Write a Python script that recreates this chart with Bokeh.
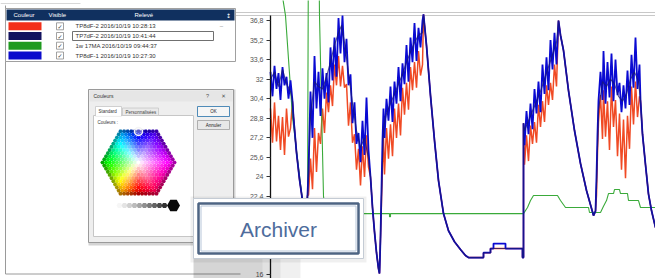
import math
import colorsys
from bokeh.plotting import figure
from bokeh.models import Range1d, FixedTicker, CustomJSTickFormatter
from bokeh.core.properties import value
from bokeh.embed import file_html
from bokeh.resources import INLINE

# ---------------- data ----------------
legend_labels = ["TP8dF-2 2016/10/19 10:28:13", "TP7dF-2 2016/10/19 10:41:44",
                 "1w 17MA 2016/10/19 09:44:37", "TP8dF-1 2016/10/19 10:27:30"]
legend_colors = ["#F2301A", "#12125E", "#1E9A1E", "#0B0BCC"]
line_colors = ["#F04A24", "#1A1A70", "#3AAA3A", "#0A0AD2"]
y_ticks = [16.0, 17.6, 19.2, 20.8, 22.4, 24.0, 25.6, 27.2, 28.8, 30.4, 32.0, 33.6, 35.2, 36.8]

# time in hours; shared cooling segments (all probes overlap there)
cool_a_t = [5.5, 5.75, 6.5, 7.25, 8.0, 8.5, 8.75, 9.0, 9.25]
cool_a_v = [30.2, 28.9, 26.0, 23.8, 22.07, 20.8, 20.3, 21.0, 22.5]
cool_b_t = [25.0, 25.5, 26.0, 26.5, 27.0, 27.25, 27.5]
cool_b_v = [24.0, 21.5, 19.5, 17.8, 16.5, 16.1, 19.0]
cool_c1_t = [38.25, 39.0, 40.0, 41.0, 42.0, 43.25, 44.5, 46.0, 47.5, 48.75, 49.5, 53.25, 53.25, 55.0, 55.0]
cool_c1_v = [37.3, 34.75, 30.66, 26.98, 23.7, 21.0, 19.6, 18.7, 18.06, 17.57, 17.4, 17.4, 17.8, 17.8, 18.14]
bump_t = [55.75, 55.75, 58.75, 58.75]
bump_v = [18.14, 18.55, 18.55, 18.14]
cool_c2_t = [63.0, 63.0, 63.25, 63.25]
cool_c2_v = [18.14, 17.4, 17.4, 28.4]
cool_d_t = [72.0, 72.5, 73.25, 74.5, 76.0, 77.5, 79.0, 80.75, 81.25]
cool_d_v = [36.8, 35.6, 34.35, 31.07, 27.8, 25.1, 22.89, 20.84, 21.2]
cool_e_t = [92.5, 93.0, 93.75, 94.5, 95.25, 96.25]
cool_e_v = [30.25, 27.5, 25.0, 22.6, 21.25, 19.86]

# heating segments (regulation noise)
h1_t = [0.0, 0.5, 1.0, 1.5, 2.0, 2.5, 3.0, 3.5, 4.0, 4.5, 5.0]
h2_t = [9.5, 10.0, 10.5, 11.0, 11.5, 12.0, 12.5, 13.0, 13.5, 14.0, 14.5, 15.0, 15.5, 16.0, 16.5,
        17.0, 17.5, 18.0, 18.5, 19.0, 19.5, 20.0, 20.5, 21.0, 21.5, 22.0, 22.5, 23.0, 23.5, 24.0, 24.5]
h3_t = [27.75, 28.0, 28.25, 28.5, 29.0, 29.5, 30.0, 30.5, 31.0, 31.5, 32.0, 32.5, 33.0, 33.5, 34.0,
        34.5, 35.0, 35.5, 36.0, 36.5, 37.0, 37.5, 38.0]
h4_t = [63.5, 64.0, 64.5, 65.0, 65.5, 66.0, 66.5, 67.0, 67.5, 68.0, 68.5, 69.0, 69.5, 70.0, 70.5, 71.0, 71.5]
h5_t = [81.5, 81.75, 82.0, 82.5, 83.0, 83.25, 83.75, 84.25, 84.75, 85.25, 85.75, 86.25, 86.75, 87.25,
        87.75, 88.25, 88.75, 89.25, 89.75, 90.25, 90.75, 91.25, 91.75, 92.25]

blue_h1 = [32.6, 30.6, 33.1, 31.2, 32.5, 30.3, 33.0, 31.5, 32.2, 30.4, 31.9]
blue_h2 = [24.5, 31.0, 27.2, 33.9, 29.6, 32.6, 29.0, 32.9, 30.4, 32.5, 30.1, 34.6, 31.9, 35.4, 32.2,
           37.0, 34.1, 37.2, 33.4, 35.3, 31.5, 32.4, 28.4, 30.1, 26.7, 27.6, 25.2, 28.6, 25.8, 30.5, 26.2]
blue_h3 = [23.0, 27.0, 29.6, 27.2, 30.4, 28.6, 31.4, 28.5, 31.8, 30.0, 33.0, 30.2, 33.3, 31.6, 34.8,
           31.8, 35.4, 33.4, 36.6, 33.5, 36.2, 34.6, 36.8]
blue_h4 = [26.6, 29.4, 27.5, 30.0, 27.9, 31.2, 29.2, 31.8, 29.3, 33.2, 30.8, 33.8, 31.1, 35.2, 32.8, 35.8, 33.2]
blue_h5 = [24.0, 27.5, 30.25, 32.6, 30.3, 34.3, 30.0, 33.4, 30.5, 34.1, 30.2, 33.6, 30.7, 31.7,
           29.3, 31.5, 29.6, 32.7, 29.9, 34.0, 31.3, 35.4, 31.2, 33.2]

red_h1 = [29.6, 26.8, 30.1, 26.9, 29.0, 26.2, 28.9, 25.8, 29.6, 27.3, 28.0]
red_h2 = [22.5, 25.5, 23.0, 28.0, 24.4, 27.6, 26.7, 29.6, 27.6, 30.9, 29.3, 31.5, 29.8, 33.2, 31.5,
          33.9, 31.4, 33.1, 31.3, 31.6, 28.2, 30.1, 26.8, 27.5, 24.6, 26.3, 23.3, 26.5, 24.0, 27.4, 24.8]
red_h3 = [22.0, 25.0, 27.2, 24.2, 28.0, 25.5, 28.3, 25.7, 29.6, 27.2, 30.0, 27.4, 31.3, 29.1, 31.7,
          29.5, 33.0, 31.1, 33.4, 31.3, 34.3, 32.3, 33.2]
red_h4 = [25.0, 27.4, 25.3, 28.2, 26.7, 28.5, 26.8, 29.9, 28.1, 30.2, 28.5, 31.5, 29.9, 31.7, 30.3, 33.2, 31.4]
red_h5 = [22.5, 26.0, 28.5, 30.7, 27.1, 31.1, 27.3, 30.2, 26.2, 31.4, 28.1, 30.3, 25.7, 29.2,
          24.6, 28.7, 23.9, 29.0, 26.3, 31.4, 28.3, 31.8, 28.9, 30.6]

navy_h1_t = [0.0, 1.0, 2.0, 3.0, 4.0, 5.0]
navy_h1 = [32.0, 32.6, 31.4, 32.8, 31.6, 31.0]
navy_h2_t = [9.5, 10.0, 11.0, 12.0, 13.0, 14.0, 15.0, 16.0, 17.0, 17.75, 18.5, 19.5, 20.5, 21.5, 22.5, 23.5, 24.5]
navy_h2 = [24.0, 29.0, 31.8, 31.4, 31.2, 32.2, 33.4, 34.8, 35.8, 36.4, 35.0, 32.5, 30.0, 27.8, 26.4, 27.2, 25.5]
navy_h3_t = [27.75, 28.25, 29.0, 30.0, 31.0, 32.0, 33.0, 34.0, 35.0, 36.0, 37.0, 38.0]
navy_h3 = [22.5, 28.0, 29.2, 30.0, 30.8, 31.6, 32.4, 33.4, 34.2, 35.0, 35.6, 35.8]
navy_h4_t = [63.5, 64.5, 65.5, 66.5, 67.5, 68.5, 69.5, 70.5, 71.5]
navy_h4 = [27.8, 28.6, 29.4, 30.2, 31.0, 32.0, 33.0, 34.0, 35.0]
navy_h5_t = [81.5, 82.0, 83.0, 84.0, 85.0, 86.0, 87.0, 88.0, 89.0, 90.0, 91.0, 92.0]
navy_h5 = [23.5, 29.5, 31.8, 31.4, 32.0, 31.6, 30.6, 30.2, 30.8, 32.0, 32.6, 31.8]

green_t = [0.0, 3.75, 5.5, 8.0, 8.75, 9.25, 9.5, 12.0, 12.25, 13.25, 14.0, 29.75, 29.75, 30.0, 30.0,
           63.25, 64.25, 65.0, 65.75, 71.75, 72.5, 73.75, 79.5, 79.75, 82.5, 83.25, 84.0, 84.5, 85.75,
           86.0, 87.25, 87.5, 89.25, 89.5, 92.0, 92.5, 97.0]
green_v = [45.0, 37.2, 28.9, 22.07, 21.0, 21.0, 45.0, 45.0, 37.2, 22.4, 21.0, 21.0, 20.75, 20.75, 21.0,
           21.0, 21.5, 22.07, 22.48, 22.48, 22.07, 21.5, 21.5, 21.09, 21.09, 21.6, 22.07, 22.64, 22.64,
           22.97, 22.97, 22.64, 22.64, 22.07, 22.07, 21.5, 21.5]


def join(*parts):
    out = []
    for part in parts:
        out += list(part)
    return out


blue_t = join(h1_t, cool_a_t, h2_t, cool_b_t, h3_t, cool_c1_t, bump_t, cool_c2_t, h4_t, cool_d_t, h5_t, cool_e_t)
blue_v = join(blue_h1, cool_a_v, blue_h2, cool_b_v, blue_h3, cool_c1_v, bump_v, cool_c2_v, blue_h4, cool_d_v, blue_h5, cool_e_v)
red_t = join(h1_t, cool_a_t, h2_t, cool_b_t, h3_t, cool_c1_t, cool_c2_t, h4_t, cool_d_t, h5_t, cool_e_t)
red_v = join(red_h1, cool_a_v, red_h2, cool_b_v, red_h3, cool_c1_v, cool_c2_v, red_h4, cool_d_v, red_h5, cool_e_v)
navy_t = join(navy_h1_t, cool_a_t, navy_h2_t, cool_b_t, navy_h3_t, cool_c1_t, cool_c2_t, navy_h4_t, cool_d_t, navy_h5_t, cool_e_t)
navy_v = join(navy_h1, cool_a_v, navy_h2, cool_b_v, navy_h3, cool_c1_v, cool_c2_v, navy_h4, cool_d_v, navy_h5, cool_e_v)

# ---------------- figure ----------------
p = figure(width=655, height=278, x_range=Range1d(-67.5, 96.25), y_range=Range1d(15.69, 38.44),
           x_axis_location=None, y_axis_location="left", toolbar_location=None,
           output_backend="svg", min_border=0, title=None)
p.extra_x_ranges = {"px": Range1d(0, 655)}
p.extra_y_ranges = {"px": Range1d(278, 0)}
p.outline_line_color = None
for g in p.grid:
    g.visible = False
p.background_fill_color = "white"
p.border_fill_color = "white"

ax = p.yaxis[0]
ax.fixed_location = 0
ax.bounds = (15.0, 37.2)
ax.ticker = FixedTicker(ticks=y_ticks)
ax.formatter = CustomJSTickFormatter(code="return (Math.round(tick*10)/10).toString().replace('.', ',');")
ax.major_label_text_font = "Liberation Sans"
ax.major_label_text_font_size = "7px"
ax.major_label_text_color = "#555555"
ax.major_label_standoff = 3
ax.axis_line_color = "#111111"
ax.axis_line_width = 1.3
ax.major_tick_out = 4
ax.major_tick_in = 0
ax.major_tick_line_color = "#333333"
ax.minor_tick_out = 0
ax.minor_tick_in = 0

PX = dict(x_range_name="px", y_range_name="px")


def seg(x0, y0, x1, y1, color, lw=1.0, level="underlay"):
    r = p.segment(x0=[x0], y0=[y0], x1=[x1], y1=[y1], line_color=color, line_width=lw, **PX)
    r.level = level


def box(l, r_, t, b, fill, line=None, lw=1.0, alpha=1.0, level="overlay"):
    r = p.quad(left=[l], right=[r_], top=[t], bottom=[b], fill_color=fill, fill_alpha=alpha,
               line_color=line, line_width=lw, **PX)
    r.level = level


def txt(x, y, s, size, color, align="left", font="Liberation Sans", style="normal"):
    r = p.text(x=[x], y=[y], text=[s], text_font=value(font), text_font_size=f"{size}px",
               text_color=color, text_align=align, text_baseline="middle", text_font_style=style, **PX)
    r.level = "overlay"


# window frame lines
seg(235, 12, 655, 12, "#c8c8c8")
seg(235, 15, 655, 15, "#c8c8c8")
seg(0, 3, 80, 3, "#d8d8d8")
seg(5, 5, 5, 273.5, "#9a9a9a")
seg(5, 273.5, 240, 273.5, "#9a9a9a")

# ---------------- series ----------------
p.line(red_t, red_v, line_color=line_colors[0], line_width=1.5)
p.line(green_t, green_v, line_color=line_colors[2], line_width=1.1)
p.line(blue_t, blue_v, line_color=line_colors[3], line_width=1.8)
p.line(navy_t, navy_v, line_color=line_colors[1], line_width=1.1, line_alpha=0.75)

# ---------------- legend table ----------------
box(5, 235, 8, 61, "white", "#a0a0a0")
box(6, 234, 9, 20, "#10305F")
txt(13, 14.5, "Couleur", 6, "white")
txt(48, 14.5, "Visible", 6, "white")
txt(134, 14.5, "Relevé", 6, "white")
txt(228, 14.5, "↕", 6, "white", align="center", font="DejaVu Sans")
row_y = [25.8, 35.5, 45.2, 55.0]
box(72, 213, 31, 40, "white", "#707070")
for yy, col, lab in zip(row_y, legend_colors, legend_labels):
    box(8, 41, yy - 4, yy + 4, col)
    box(56, 63, yy - 3.5, yy + 3.5, "white", "#8a8a8a", 0.8)
    txt(59.5, yy, "✓", 6, "#3a3a3a", align="center", font="DejaVu Sans")
    txt(75, yy, lab, 6, "#333333")
txt(221, 25.5, "–", 6, "#888888", align="center")

# ---------------- colour dialog ----------------
box(88, 235, 89, 245, "#D4D4D4")
box(88, 233, 89, 242, "#EEEEEE", "#9A9A9A")
box(89, 232, 90, 101, "#E6E6E6")
txt(93, 95.5, "Couleurs", 5, "#333333")
txt(207, 95.5, "?", 5.5, "#555555", align="center")
txt(223, 95.5, "✕", 5.5, "#555555", align="center", font="DejaVu Sans")
box(93, 193, 115, 236, "white", "#C6C6C6")
box(122, 158, 107.5, 115, "#EAEAEA", "#C6C6C6", 0.8)
box(95, 121, 106, 115.5, "white", "#C6C6C6", 0.8)
seg(95.5, 115.2, 120.5, 115.2, "white", 1.2, level="overlay")
txt(98, 111, "Standard", 4.5, "#333333")
txt(125, 111.5, "Personnalisées", 4.5, "#444444")
txt(97, 122, "Couleurs :", 4.5, "#333333")

hex_x, hex_y, hex_c = [], [], []
R = 40.0
cxh, cyh = 138.0, 162.0
st = 3.6
for j in range(-12, 13):
    yy = j * st * 0.866
    for i in range(-13, 14):
        xx = i * st + (st / 2 if j % 2 else 0.0)
        d = max(abs(yy) / (R * 0.866), (1.732 * abs(xx) + abs(yy)) / (1.732 * R))
        if d > 0.97:
            continue
        ang = math.degrees(math.atan2(-yy, xx))
        a = (270 - ang) % 360
        hue = a * 4 / 3 if a <= 180 else 240 + (a - 180) * 2 / 3
        sat = min(1.0, d / 0.75)
        val = 1.0 if d < 0.78 else max(0.35, 1.0 - (d - 0.78) * 2.8)
        rr, gg, bb = colorsys.hsv_to_rgb((hue % 360) / 360, sat, val)
        hex_c.append("#%02x%02x%02x" % (int(rr * 255), int(gg * 255), int(bb * 255)))
        hex_x.append(cxh + xx)
        hex_y.append(cyh + yy)
r = p.scatter(hex_x, hex_y, marker="hex", size=st * 1.2, fill_color=hex_c, line_color=None, **PX)
r.level = "overlay"
r = p.scatter([138], [131], marker="circle", size=8, fill_color="white", fill_alpha=0.35,
              line_color="#f4f4f4", line_width=1.5, **PX)
r.level = "overlay"

gray_x = [119, 124, 129, 134, 139, 144, 149, 154, 159, 164]
gray_c = ["#f6f6f6", "#e4e4e4", "#d0d0d0", "#bcbcbc", "#a6a6a6", "#909090", "#7a7a7a", "#646464", "#4c4c4c", "#333333"]
r = p.scatter(gray_x, [205] * len(gray_x), marker="hex", size=6, fill_color=gray_c, line_color=None, **PX)
r.level = "overlay"
r = p.scatter([173], [205], marker="hex", size=13, fill_color="#0a0a0a", line_color=None, **PX)
r.level = "overlay"

box(197, 229, 106, 116, "#F5F5F5", "#3C7FB1", 0.9)
txt(213, 111, "OK", 4.5, "#222222", align="center")
box(197, 229, 120, 129, "#E8E8E8", "#A8A8A8", 0.9)
txt(213, 124.5, "Annuler", 4.5, "#222222", align="center")

# ---------------- Archiver button ----------------
box(193, 300, 256, 278, "#000000", alpha=0.06)
box(193, 280, 256, 278, "#000000", alpha=0.06)
box(193, 262, 256, 278, "#000000", alpha=0.05)
box(190, 366, 196, 262, "#000000", alpha=0.06)
box(193, 363, 198, 258, "white", "#C4CBD4", 1)
box(198, 358, 203, 253, "white", "#4D6483", 2.5)
box(200.5, 355.5, 205.5, 250.5, None, "#B7C6D9", 1)
txt(278, 229, "Archiver", 21, "#4E6C9C", align="center")

open("out.html", "w").write(file_html(p, INLINE))
